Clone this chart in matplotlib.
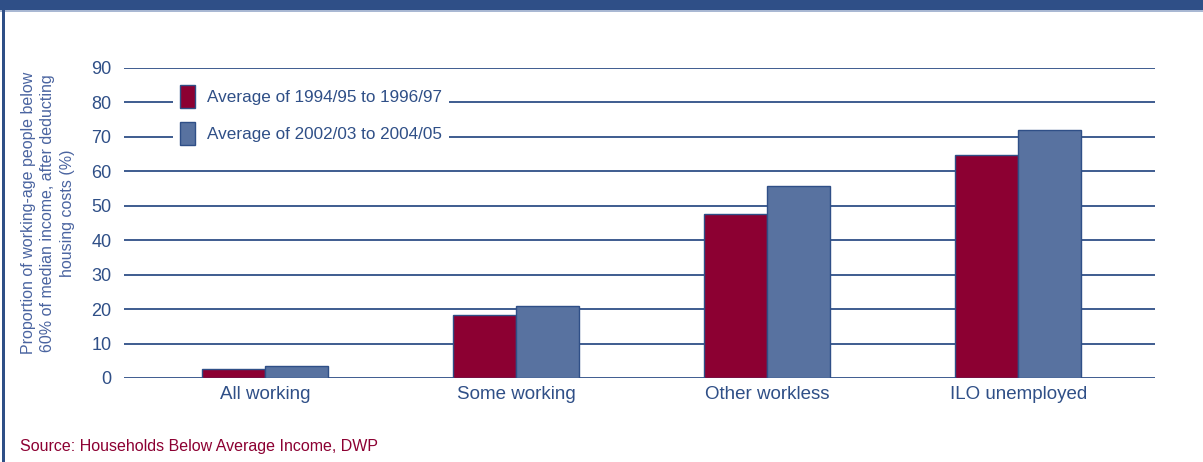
import matplotlib
matplotlib.use('Agg')
from matplotlib import pyplot as plt
from matplotlib.patches import Rectangle
import numpy as np

plt.rcParams['font.family'] = ['Liberation Sans', 'DejaVu Sans']

# Dane
categories = ['All working', 'Some working', 'Other workless', 'ILO unemployed']
avg_1994_1997 = [2.5, 18.3, 47.6, 64.8]
avg_2002_2005 = [3.5, 20.9, 55.7, 72.0]
series_labels = ['Average of 1994/95 to 1996/97', 'Average of 2002/03 to 2004/05']
y_ticks = [0, 10, 20, 30, 40, 50, 60, 70, 80, 90]

navy = '#2f4f87'
red = '#8c0032'
blue = '#5872a0'

fig = plt.figure(figsize=(12.03, 4.62), dpi=100)
ax = fig.add_axes([124 / 1203, 1 - 378 / 462, 1031 / 1203, 310 / 462])

x = np.arange(len(categories))
w = 0.25
ax.bar(x - w / 2, avg_1994_1997, w, color=red, edgecolor=navy, linewidth=1.0,
       label=series_labels[0], zorder=3)
ax.bar(x + w / 2, avg_2002_2005, w, color=blue, edgecolor=navy, linewidth=1.0,
       label=series_labels[1], zorder=3)

ax.set_xlim(-0.562, 3.545)
ax.set_ylim(0, 90)
ax.set_yticks(y_ticks)
ax.set_xticks(x)
ax.set_xticklabels(categories, fontsize=13.5)
ax.tick_params(axis='y', labelsize=13)
ax.tick_params(length=0, labelcolor=navy)
ax.tick_params(axis='y', pad=9)
ax.tick_params(axis='x', pad=6)
ax.grid(axis='y', color=navy, linewidth=1.3)
ax.set_axisbelow(True)
for s in ax.spines.values():
    s.set_visible(False)

ax.set_ylabel('Proportion of working-age people below\n60% of median income, after deducting\nhousing costs (%)',
              color='#4a64a0', fontsize=11.5, linespacing=1.35)
ax.yaxis.set_label_coords(-0.048, 0.532)

# Legenda preko mreze, bela pozadina
leg = ax.legend(loc='upper left', bbox_to_anchor=(0.048, 0.967), fontsize=12.3,
                frameon=True, facecolor='white', edgecolor='none', framealpha=1,
                fancybox=False, handlelength=0.88, handleheight=1.7,
                labelspacing=0.82, handletextpad=0.7, borderpad=0.4,
                borderaxespad=0)
for t in leg.get_texts():
    t.set_color(navy)
leg.set_zorder(5)

# Okvir: traka gore i linija levo
fig.patches.append(Rectangle((0, 1 - 10 / 462), 1, 10 / 462, transform=fig.transFigure,
                             facecolor=navy, edgecolor='none'))
fig.patches.append(Rectangle((0, 1 - 12 / 462), 1, 2 / 462, transform=fig.transFigure,
                             facecolor='#a9b8d3', edgecolor='none'))
fig.patches.append(Rectangle((2 / 1203, 0), 3 / 1203, 1, transform=fig.transFigure,
                             facecolor=navy, edgecolor='none'))

fig.text(20 / 1203, 1 - 447 / 462, 'Source: Households Below Average Income, DWP',
         color=red, fontsize=11.5, va='center', ha='left')

fig.savefig('out.png', dpi=100)
